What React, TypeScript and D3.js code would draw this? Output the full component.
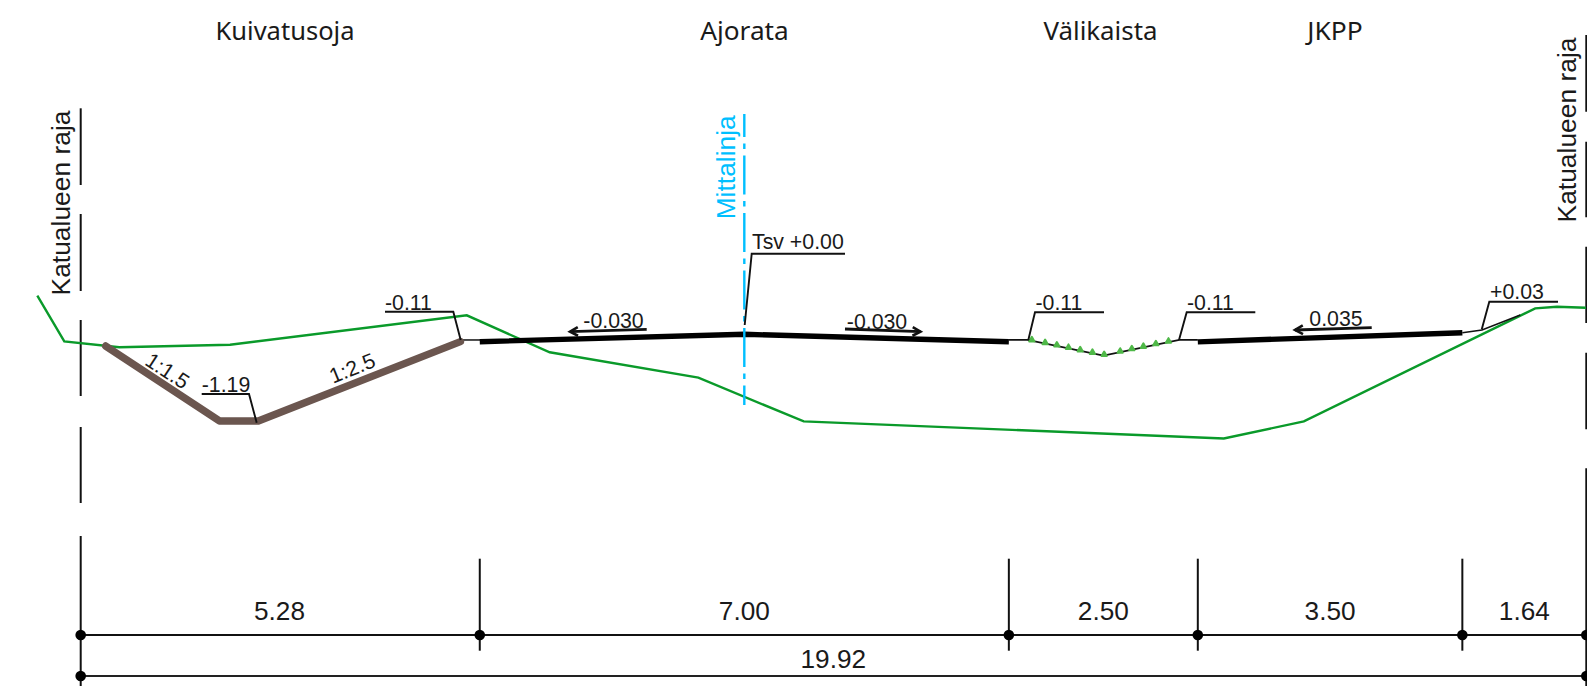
import React from "react";
import * as d3 from "d3";

const WIDTH = 1587;
const HEIGHT = 686;

// Cross-section data: offset from the left street boundary (m), elevation relative to Tsv (m)
const groundX = [-0.574, -0.217, 0.511, 1.976, 5.108, 6.205, 8.172, 9.566, 15.124, 16.183, 19.244, 19.531, 19.915];
const groundH = [0.511, -0.093, -0.172, -0.138, 0.251, -0.238, -0.574, -1.153, -1.378, -1.153, 0.343, 0.365, 0.352];
const ditchX = [0.331, 1.835, 2.35, 5.024];
const ditchH = [-0.155, -1.147, -1.147, -0.097];
const roadX = [5.28, 8.78, 12.28];
const roadH = [-0.098, 0, -0.098];
const pathX = [14.78, 18.28];
const pathH = [-0.1, 0.02];
const medianX = [12.28, 12.526, 13.532, 14.535, 14.78];
const medianH = [-0.075, -0.075, -0.283, -0.075, -0.075];
const medianMarks = [12.584, 12.76, 12.915, 13.069, 13.224, 13.386, 13.541, 13.753, 13.907, 14.06, 14.225, 14.392];
const shoulderLeftX = [5.027, 5.284];
const shoulderLeftH = [-0.075, -0.075];
const shoulderRightX = [18.28, 18.54, 19.046];
const shoulderRightH = [0.02, 0.057, 0.255];

// Dimension chain
const dimWidths = [5.28, 7.0, 2.5, 3.5, 1.64];
const dimTotal = 19.92;
const dimLabels = ["5.28", "7.00", "2.50", "3.50", "1.64"];
const centerline = 8.78;

const sectionTitles = ["Kuivatusoja", "Ajorata", "Välikaista", "JKPP"];
const sectionTitleX = [285, 744.5, 1100.5, 1335];
const sectionTitleW = [139, 88.5, 114, 55.5];

const x = d3.scaleLinear().domain([0, dimTotal]).range([80.7, 1586.3]);
const y = d3.scaleLinear().domain([0, 1]).range([334.3, 334.3 - 75.57]);
const medianY = d3.scaleLinear().domain(medianX).range(medianH);

const path = (xs: number[], hs: number[]) =>
  d3.line<number>().x((d) => x(d)).y((_, i) => y(hs[i]))(xs) as string;

const poly = (pts: [number, number][]) => d3.line()(pts) as string;

const LABEL_FONT = "'Liberation Sans', Arial, sans-serif";
const INK = "#111";

function Label({ px, py, size = 21.3, anchor = "start", rotate = 0, fill = "#1a1a1a", children }: any) {
  return (
    <text
      transform={`translate(${px},${py}) rotate(${rotate})`}
      fontFamily={LABEL_FONT}
      fontSize={size}
      textAnchor={anchor}
      fill={fill}
    >
      {children}
    </text>
  );
}

function Leader({ pts, width = 1.9 }: { pts: [number, number][]; width?: number }) {
  return <path d={poly(pts)} fill="none" stroke={INK} strokeWidth={width} />;
}

function Arrow({ from, to }: { from: [number, number]; to: [number, number] }) {
  const a = Math.atan2(to[1] - from[1], to[0] - from[0]);
  const len = 9;
  const sp = 0.5;
  const b1: [number, number] = [to[0] - len * Math.cos(a - sp), to[1] - len * Math.sin(a - sp)];
  const b2: [number, number] = [to[0] - len * Math.cos(a + sp), to[1] - len * Math.sin(a + sp)];
  return (
    <g>
      <path d={poly([from, to])} fill="none" stroke={INK} strokeWidth={2.8} />
      <path d={poly([b1, to, b2])} fill="none" stroke={INK} strokeWidth={2.6} />
    </g>
  );
}

const breaks = d3.cumsum(dimWidths);
const dimStops = [0, ...breaks.slice(0, -1), dimTotal];
const DIM1 = 635;
const DIM2 = 676;
const triangle = d3.symbol().type(d3.symbolTriangle).size(12)() as string;

export default function App() {
  const bx0 = x(0);
  const bx1 = x(dimTotal);
  const leftBoundary: [number, number][] = [[108.3, 185], [214, 291], [320, 396], [427, 503], [536, 686]];
  const rightBoundary: [number, number][] = [[35, 111.7], [141.7, 217.3], [246.7, 323], [352.7, 429.3], [468.3, 686]];

  return (
    <svg
      width={WIDTH}
      height={HEIGHT}
      viewBox={`0 0 ${WIDTH} ${HEIGHT}`}
      style={{ position: "absolute", left: 0, top: 0, display: "block", background: "#fff" }}
    >
      {/* Section titles */}
      {sectionTitles.map((t, i) => (
        <text
          key={t}
          x={sectionTitleX[i] - sectionTitleW[i] / 2}
          y={40}
          fontFamily="'Noto Sans', sans-serif"
          fontSize={25}
          textLength={sectionTitleW[i]}
          lengthAdjust="spacingAndGlyphs"
          fill="#1a1a1a"
        >
          {t}
        </text>
      ))}

      {/* Street boundary lines */}
      {leftBoundary.map(([a, b], i) => (
        <line key={`l${i}`} x1={bx0} x2={bx0} y1={a} y2={b} stroke={INK} strokeWidth={2} />
      ))}
      {rightBoundary.map(([a, b], i) => (
        <line key={`r${i}`} x1={bx1} x2={bx1} y1={a} y2={b} stroke={INK} strokeWidth={2} />
      ))}
      <Label px={70} py={203} size={26.4} anchor="middle" rotate={-90}>Katualueen raja</Label>
      <Label px={1575.5} py={130} size={26.4} anchor="middle" rotate={-90}>Katualueen raja</Label>

      {/* Ground line */}
      <path d={path(groundX, groundH)} fill="none" stroke="#0a9a2a" strokeWidth={2.4} />

      {/* Thin connecting lines */}
      <path d={path(shoulderLeftX, shoulderLeftH)} fill="none" stroke={INK} strokeWidth={1.5} />
      <path d={path(shoulderRightX, shoulderRightH)} fill="none" stroke={INK} strokeWidth={1.5} />
      <path d={path(medianX, medianH)} fill="none" stroke={INK} strokeWidth={1.8} />

      {/* Median planting marks */}
      {medianMarks.map((m) => (
        <path
          key={m}
          d={triangle}
          fill="#4fb848"
          stroke="#4fb848"
          strokeWidth={2}
          strokeLinejoin="round"
          transform={`translate(${x(m)},${y(medianY(m)) - 1})`}
        />
      ))}

      {/* Ditch */}
      <path
        d={path(ditchX, ditchH)}
        fill="none"
        stroke="#6b564f"
        strokeWidth={7.5}
        strokeLinecap="round"
        strokeLinejoin="round"
      />

      {/* Carriageway and path */}
      <path d={path(roadX, roadH)} fill="none" stroke="#000" strokeWidth={5.4} />
      <path d={path(pathX, pathH)} fill="none" stroke="#000" strokeWidth={5.4} />

      {/* Measuring line */}
      <line
        x1={x(centerline)}
        x2={x(centerline)}
        y1={114}
        y2={405}
        stroke="#00bfff"
        strokeWidth={2.4}
        strokeDasharray="39 6.5 5.5 6.5"
        strokeDashoffset={16}
      />
      <Label px={735} py={167.3} size={26.4} anchor="middle" rotate={-90} fill="#00bfff">Mittalinja</Label>

      {/* Level leaders */}
      <Leader pts={[[744.7, 325], [751.7, 253.7], [845, 253.7]]} />
      <Label px={752} py={249}>Tsv +0.00</Label>

      <Leader pts={[[385, 311.7], [453.3, 311.7], [460.7, 340]]} />
      <Label px={385} py={310}>-0.11</Label>

      <Leader pts={[[201.7, 394], [249, 394], [256.7, 422.7]]} />
      <Label px={201.7} py={391.7}>-1.19</Label>

      <Leader pts={[[1028.3, 340], [1035, 312.3], [1104, 312.3]]} />
      <Label px={1035.5} py={310}>-0.11</Label>

      <Leader pts={[[1179, 340], [1186.7, 312.3], [1255.3, 312.3]]} />
      <Label px={1187} py={310}>-0.11</Label>

      <Leader pts={[[1481.7, 329.5], [1489.3, 301.7], [1558, 301.7]]} />
      <Label px={1490} py={299.3}>+0.03</Label>

      {/* Slope labels */}
      <Label px={163.5} py={377} anchor="middle" rotate={33.5}>1:1.5</Label>
      <Label px={355} py={375} anchor="middle" rotate={-22}>1:2.5</Label>

      {/* Cross-fall arrows */}
      <Arrow from={[646.7, 329.3]} to={[570, 331.7]} />
      <Label px={613.5} py={328.3} anchor="middle">-0.030</Label>
      <Arrow from={[845, 329]} to={[920.5, 331.7]} />
      <Label px={877} py={328.5} anchor="middle">-0.030</Label>
      <Arrow from={[1371.7, 327.7]} to={[1295, 330]} />
      <Label px={1336} py={326} anchor="middle">0.035</Label>

      {/* Dimension chain */}
      {dimStops.slice(1, -1).map((d) => (
        <line key={d} x1={x(d)} x2={x(d)} y1={558.7} y2={650.7} stroke={INK} strokeWidth={2} />
      ))}
      <line x1={bx0} x2={bx1} y1={DIM1} y2={DIM1} stroke={INK} strokeWidth={2.2} />
      <line x1={bx0} x2={bx1} y1={DIM2} y2={DIM2} stroke="#222" strokeWidth={2} />
      {dimStops.map((d) => (
        <circle key={d} cx={x(d)} cy={DIM1} r={5.3} fill="#000" />
      ))}
      <circle cx={bx0} cy={DIM2} r={5.3} fill="#000" />
      <circle cx={bx1} cy={DIM2} r={5.3} fill="#000" />
      {dimLabels.map((l, i) => (
        <Label key={l} px={i === 0 ? 279.5 : x((dimStops[i] + dimStops[i + 1]) / 2)} py={620} size={26.2} anchor="middle">
          {l}
        </Label>
      ))}
      <Label px={833.3} py={668} size={26.2} anchor="middle">{dimTotal.toFixed(2)}</Label>
    </svg>
  );
}
